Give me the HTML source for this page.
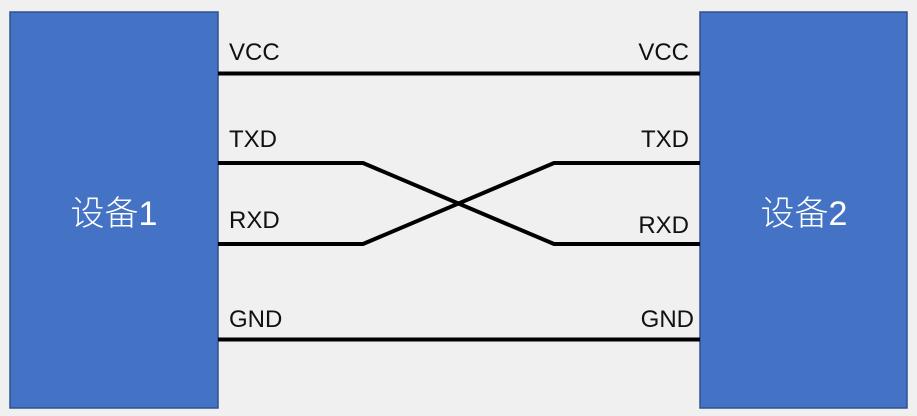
<!DOCTYPE html>
<html><head><meta charset="utf-8"><style>
html,body{margin:0;padding:0;background:#f0f0f0;}
body{width:917px;height:416px;overflow:hidden;position:relative;}
</style></head><body>
<svg width="917" height="416" xmlns="http://www.w3.org/2000/svg" style="position:absolute;left:0;top:0">
<rect x="0" y="0" width="917" height="416" fill="#f0f0f0"/>
<rect x="10" y="12" width="208" height="396" fill="#4472c4" stroke="#2f528f" stroke-width="1.5"/>
<rect x="700" y="12" width="207" height="396" fill="#4472c4" stroke="#2f528f" stroke-width="1.5"/>
<g stroke="#000" stroke-width="4" fill="none">
<line x1="218" y1="73.5" x2="700" y2="73.5"/>
<line x1="218" y1="339.5" x2="700" y2="339.5"/>
<polyline points="218,163 363,163 554,244 700,244"/>
<polyline points="218,244 363,244 554,163 700,163"/>
</g>
<g font-family="Liberation Sans, sans-serif" font-size="24" fill="#111">
<text x="229" y="60">VCC</text>
<text x="229" y="147">TXD</text>
<text x="229" y="228">RXD</text>
<text x="229" y="327">GND</text>
<text x="689" y="60" text-anchor="end">VCC</text>
<text x="689" y="147" text-anchor="end">TXD</text>
<text x="689" y="233" text-anchor="end">RXD</text>
<text x="694" y="327" text-anchor="end">GND</text>
</g>
<g font-family="Liberation Sans, Noto Sans CJK SC, sans-serif" font-size="34" fill="#fff" text-anchor="middle" font-weight="300">
<text x="114" y="225">设备1</text>
<text x="804" y="225">设备2</text>
</g>
</svg>
</body></html>
